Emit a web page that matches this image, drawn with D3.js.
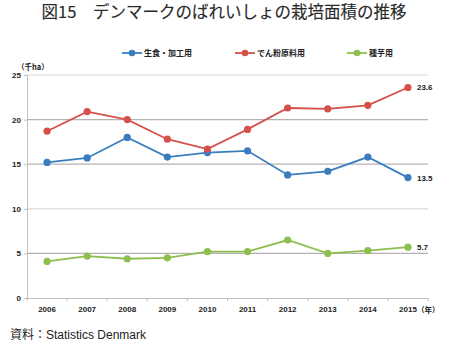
<!DOCTYPE html>
<html><head><meta charset="utf-8">
<script src="https://cdn.jsdelivr.net/npm/d3@7"></script>
<style>body{margin:0;background:#fff}svg{display:block}</style>
</head><body><svg id="c" width="450" height="349"></svg>
<script>
const years = ["2006","2007","2008","2009","2010","2011","2012","2013","2014","2015"];
const seriesNames = ["生食・加工用","でん粉原料用","種芋用"];
const seriesColors = ["#3a7dbf","#d6504a","#8dbf4e"];
const fresh = [15.2,15.7,18.0,15.8,16.3,16.5,13.8,14.2,15.8,13.5];
const starch = [18.7,20.9,20.0,17.8,16.7,18.9,21.3,21.2,21.6,23.6];
const seed = [4.1,4.7,4.4,4.5,5.2,5.2,6.5,5.0,5.3,5.7];
const yTicks = [0,5,10,15,20,25];
const seriesData = [fresh, starch, seed];

const svg = d3.select("#c");
const font = "'Noto Sans CJK JP', 'Noto Sans', sans-serif";
const x = d3.scaleBand().domain(years).range([27,428]);
const y = d3.scaleLinear().domain([0,25]).range([298,75]);

svg.append("text").attr("x",224).attr("y",18).attr("text-anchor","middle")
  .attr("font-family",font).attr("font-size",16.5).attr("fill","#2a2a2a").attr("font-weight","normal")
  .attr("stroke","#2a2a2a").attr("stroke-width",0.12)
  .text("図15　デンマークのばれいしょの栽培面積の推移");

// gridlines
svg.append("g").selectAll("line").data(yTicks.filter(d=>d>0)).join("line")
  .attr("x1",27).attr("x2",428).attr("y1",d=>y(d)).attr("y2",d=>y(d))
  .attr("stroke",d=>(d===25||d===10)?"#d9d9d9":"#b3b3b3").attr("stroke-width",1.2);

// y axis
const ya = svg.append("g").attr("transform","translate(27,0)")
  .call(d3.axisLeft(y).tickValues(yTicks).tickSize(3).tickPadding(3));
ya.select(".domain").attr("stroke","#bfbfbf");
ya.selectAll(".tick line").attr("stroke","#bfbfbf");
ya.selectAll("text").attr("font-family","'Liberation Sans', Arial, sans-serif").attr("font-weight","bold").attr("font-size",8).attr("fill","#222");

// x axis
const xa = svg.append("g").attr("transform","translate(0,298)")
  .call(d3.axisBottom(x).tickSize(0).tickPadding(8));
xa.select(".domain").attr("stroke","#bfbfbf");
xa.selectAll("text").attr("font-family","'Liberation Sans', Arial, sans-serif").attr("font-weight","bold").attr("font-size",8).attr("fill","#222");
svg.append("g").selectAll("line").data(d3.range(years.length+1)).join("line")
  .attr("x1",i=>27+i*x.step()).attr("x2",i=>27+i*x.step())
  .attr("y1",298).attr("y2",301).attr("stroke","#bfbfbf");

svg.append("text").attr("x",17).attr("y",70).attr("font-family",font).attr("font-size",7.5)
  .attr("font-weight","bold").attr("fill","#222").text("（千ha）");
svg.append("text").attr("x",417).attr("y",313).attr("font-family",font).attr("font-size",7.5)
  .attr("font-weight","bold").attr("fill","#222").text("（年）");

// lines
const line = d3.line().x((d,i)=>x(years[i])+x.bandwidth()/2).y(d=>y(d));
seriesData.forEach((s,k)=>{
  svg.append("path").datum(s).attr("d",line).attr("fill","none")
    .attr("stroke",seriesColors[k]).attr("stroke-width",1.8);
  svg.append("g").selectAll("circle").data(s).join("circle")
    .attr("cx",(d,i)=>x(years[i])+x.bandwidth()/2).attr("cy",d=>y(d)).attr("r",3.6)
    .attr("fill",seriesColors[k]);
  const last = s[s.length-1];
  svg.append("text").attr("x",x(years[years.length-1])+x.bandwidth()/2+9).attr("y",y(last)+3)
    .attr("font-family","'Liberation Sans', Arial, sans-serif").attr("font-weight","bold")
    .attr("font-size",8).attr("fill","#222").text(last.toFixed(1));
});

// legend
const legX = [122,235,347];
seriesNames.forEach((n,k)=>{
  const g = svg.append("g").attr("transform",`translate(${legX[k]},53)`);
  g.append("line").attr("x1",0).attr("x2",20).attr("y1",0).attr("y2",0).attr("stroke",seriesColors[k]).attr("stroke-width",1.8);
  g.append("circle").attr("cx",10).attr("cy",0).attr("r",3.3).attr("fill",seriesColors[k]);
  g.append("text").attr("x",22).attr("y",3).attr("font-family",font).attr("font-size",8)
    .attr("font-weight","bold").attr("fill","#222").text(n);
});

svg.append("text").attr("x",10).attr("y",339).attr("font-family","'Liberation Sans', 'Noto Sans CJK JP', sans-serif").attr("font-size",12)
  .attr("fill","#222").text("資料：Statistics Denmark");
</script></body></html>
